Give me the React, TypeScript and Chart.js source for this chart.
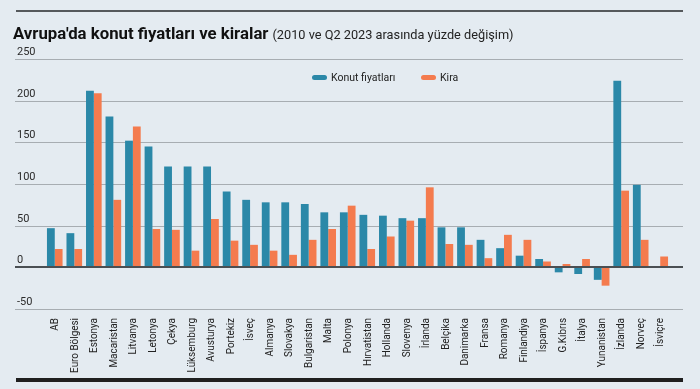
import React, { useEffect, useRef } from "react";
import { Chart, registerables } from "chart.js";

Chart.register(...registerables);

const CATEGORIES = [
  "AB", "Euro Bölgesi", "Estonya", "Macaristan", "Litvanya", "Letonya", "Çekya",
  "Lüksemburg", "Avusturya", "Portekiz", "İsveç", "Almanya", "Slovakya", "Bulgaristan",
  "Malta", "Polonya", "Hırvatistan", "Hollanda", "Slovenya", "İrlanda", "Belçika",
  "Danimarka", "Fransa", "Romanya", "Finlandiya", "İspanya", "G.Kıbrıs", "İtalya",
  "Yunanistan", "İzlanda", "Norveç", "İsviçre",
];

const HOUSE_PRICES: (number | null)[] = [
  47, 41, 212, 181, 152, 145, 121, 121, 121, 91, 81, 78, 78, 76, 66, 66, 63, 62, 59, 59,
  48, 48, 33, 23, 14, 10, -6, -8, -15, 224, 99, null,
];

const RENTS: number[] = [
  22, 22, 209, 81, 169, 46, 45, 20, 58, 32, 27, 20, 15, 33, 46, 74, 22, 37, 56, 96,
  28, 27, 11, 39, 33, 7, 4, 10, -22, 92, 33, 13,
];

const Y_TICKS = [250, 200, 150, 100, 50, 0, -50];

const TITLE = "Avrupa'da konut fiyatları ve kiralar";
const SUBTITLE = "(2010 ve Q2 2023 arasında yüzde değişim)";

const BLUE = "#2b88a8";
const ORANGE = "#f47b4e";
const BG = "#e4ebf1";
const FONT = "Roboto, 'Liberation Sans', sans-serif";

const W = 700;
const H = 389;

const decor = {
  id: "decor",
  beforeDraw(chart: any) {
    const ctx = chart.ctx;
    ctx.save();
    ctx.fillStyle = BG;
    ctx.fillRect(0, 0, W, H);
    ctx.restore();
  },
  beforeDatasetsDraw(chart: any) {
    const ctx = chart.ctx;
    const y = chart.scales.y;
    ctx.save();
    ctx.strokeStyle = "#a7adb2";
    ctx.lineWidth = 1;
    for (const v of Y_TICKS) {
      if (v === 0) continue;
      const py = Math.round(y.getPixelForValue(v)) + 0.5;
      ctx.beginPath();
      ctx.moveTo(15, py);
      ctx.lineTo(683, py);
      ctx.stroke();
    }
    ctx.restore();
  },
  afterDatasetsDraw(chart: any) {
    const ctx = chart.ctx;
    const y = chart.scales.y;
    const x = chart.scales.x;
    ctx.save();
    const z = Math.round(y.getPixelForValue(0));
    ctx.fillStyle = "#4a4f53";
    ctx.fillRect(15, z - 1, 668, 2);
    ctx.fillStyle = "#2b2b2b";
    ctx.font = `11px ${FONT}`;
    ctx.textAlign = "left";
    ctx.textBaseline = "alphabetic";
    for (const v of Y_TICKS) {
      const py = y.getPixelForValue(v);
      ctx.fillText(String(v), 17, py - 4);
    }
    // x labels, rotated
    ctx.fillStyle = "#222";
    ctx.textAlign = "right";
    ctx.textBaseline = "middle";
    const labels = chart.data.labels;
    for (let i = 0; i < labels.length; i++) {
      const px = x.getPixelForTick(i);
      ctx.save();
      ctx.translate(px + 0.5, 318);
      ctx.rotate(-Math.PI / 2);
      ctx.scale(0.9, 1);
      ctx.fillText(labels[i], 0, 0);
      ctx.restore();
    }
    ctx.restore();
  },
  afterDraw(chart: any) {
    const ctx = chart.ctx;
    ctx.save();
    // top rule
    ctx.fillStyle = "#55595c";
    ctx.fillRect(16, 10, 667, 2);
    // bottom bar
    ctx.fillStyle = "#1f1f1f";
    ctx.fillRect(16, 378, 667, 4);
    // title
    ctx.textBaseline = "alphabetic";
    ctx.textAlign = "left";
    ctx.fillStyle = "#111";
    ctx.font = `bold 16.75px ${FONT}`;
    ctx.fillText(TITLE, 13, 39);
    const tw = ctx.measureText(TITLE).width;
    ctx.fillStyle = "#222";
    ctx.font = `12.75px ${FONT}`;
    ctx.fillText(SUBTITLE, 13 + tw + 4, 39);
    // legend
    const ds = chart.data.datasets;
    const items = [
      { x: 312, ds: ds[0] },
      { x: 421, ds: ds[1] },
    ];
    ctx.font = `10.5px ${FONT}`;
    for (const it of items) {
      ctx.fillStyle = it.ds.backgroundColor;
      ctx.beginPath();
      const r = 2.5;
      const lx = it.x, ly = 75, lw = 15, lh = 5;
      ctx.moveTo(lx + r, ly);
      ctx.lineTo(lx + lw - r, ly);
      ctx.arc(lx + lw - r, ly + r, r, -Math.PI / 2, Math.PI / 2);
      ctx.lineTo(lx + r, ly + lh);
      ctx.arc(lx + r, ly + r, r, Math.PI / 2, Math.PI * 1.5);
      ctx.fill();
      ctx.fillStyle = "#222";
      ctx.fillText(it.ds.label, lx + lw + 4, 81);
    }
    ctx.restore();
  },
};

export default function App() {
  const ref = useRef<HTMLCanvasElement | null>(null);
  useEffect(() => {
    document.body.style.margin = "0";
    const canvas = ref.current!;
    const chart = new Chart(canvas, {
      type: "bar",
      data: {
        labels: CATEGORIES,
        datasets: [
          {
            label: "Konut fiyatları",
            data: HOUSE_PRICES,
            backgroundColor: BLUE,
            borderWidth: 0,
            categoryPercentage: 0.8,
            barPercentage: 1.0,
          },
          {
            label: "Kira",
            data: RENTS,
            backgroundColor: ORANGE,
            borderWidth: 0,
            categoryPercentage: 0.8,
            barPercentage: 1.0,
          },
        ],
      },
      options: {
        responsive: false,
        animation: false,
        devicePixelRatio: 1,
        layout: { padding: { left: 45, right: 30, top: 59, bottom: 0 } },
        plugins: {
          legend: { display: false },
          tooltip: { enabled: false },
          title: { display: false },
        },
        scales: {
          x: {
            type: "category",
            grid: { display: false, drawTicks: false },
            border: { display: false },
            ticks: { display: false, autoSkip: false },
            afterFit(scale: any) {
              scale.height = 80;
            },
          },
          y: {
            display: false,
            min: -50,
            max: 250,
          },
        },
      },
      plugins: [decor],
    });
    return () => chart.destroy();
  }, []);
  return (
    <div style={{ width: W, height: H, background: BG }}>
      <canvas ref={ref} width={W} height={H} style={{ display: "block" }} />
    </div>
  );
}
